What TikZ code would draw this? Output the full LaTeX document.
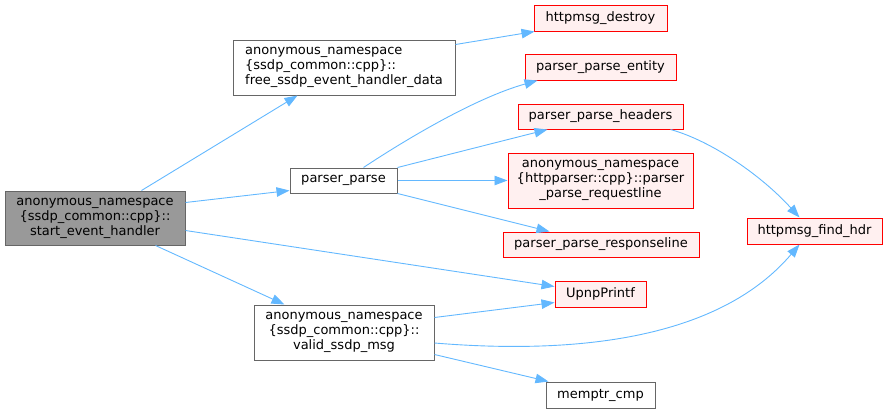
\documentclass[tikz,border=0pt]{standalone}
\usepackage{fontspec}
\setmainfont{DejaVu Sans}
\usetikzlibrary{arrows.meta,calc}
\definecolor{edgeblue}{HTML}{63B8FF}
\definecolor{nodegray}{HTML}{666666}
\definecolor{startfill}{HTML}{999999}
\definecolor{redfill}{HTML}{FFF0F0}
\begin{document}
\begin{tikzpicture}[x=1pt,y=-1pt,
  box/.style={rectangle,inner sep=0pt,line width=1pt,align=center,font=\fontsize{13}{15}\selectfont},
  startbox/.style={box,draw=nodegray,fill=startfill},
  whitebox/.style={box,draw=nodegray,fill=white},
  redbox/.style={box,draw=red,fill=redfill},
  edge/.style={draw=edgeblue,line width=0.9pt,-{Triangle[length=13pt,width=9.5pt]}}
]
\useasboundingbox (0,0) rectangle (887,413);

\node[startbox,minimum width=180pt,minimum height=54pt] (start) at (95,218) {anonymous\_namespace\\\{ssdp\_common::cpp\}::\\start\_event\_handler};
\node[whitebox,align=left,minimum width=222pt,minimum height=55pt] (free) at (344,67.5) {anonymous\_namespace\\\{ssdp\_common::cpp\}::\\free\_ssdp\_event\_handler\_data};
\node[whitebox,minimum width=107pt,minimum height=25pt] (pp) at (343.5,180.5) {parser\_parse};
\node[whitebox,minimum width=180pt,minimum height=55pt] (valid) at (344,332.5) {anonymous\_namespace\\\{ssdp\_common::cpp\}::\\valid\_ssdp\_msg};

\node[redbox,minimum width=133pt,minimum height=26pt] (destroy) at (600.5,18) {httpmsg\_destroy};
\node[redbox,minimum width=151pt,minimum height=26pt] (entity) at (600.5,67) {parser\_parse\_entity};
\node[redbox,minimum width=165pt,minimum height=25pt] (headers) at (600.5,116.5) {parser\_parse\_headers};
\node[redbox,minimum width=185pt,minimum height=55pt] (reqline) at (600.5,180.5) {anonymous\_namespace\\\{httpparser::cpp\}::parser\\\_parse\_requestline};
\node[redbox,minimum width=196pt,minimum height=25pt] (respline) at (601,244.5) {parser\_parse\_responseline};
\node[redbox,minimum width=91pt,minimum height=26pt] (upnp) at (600.5,294) {UpnpPrintf};
\node[whitebox,minimum width=109pt,minimum height=26pt] (memptr) at (600.5,395) {memptr\_cmp};
\node[redbox,minimum width=135pt,minimum height=26pt] (findhdr) at (814.5,231) {httpmsg\_find\_hdr};

\draw[edge] ($(start.north west)+(137,0)$) -- ($(free.south west)+(65,0)$);
\draw[edge] ($(start.north east)+(0,12)$) -- ($(pp.south west)+(0,-3)$);
\draw[edge] ($(start.north east)+(0,40)$) -- ($(upnp.north west)+(0,6)$);
\draw[edge] ($(start.south west)+(151,0)$) -- ($(valid.north west)+(31,0)$);
\draw[edge] ($(free.north east)+(0,5)$) -- ($(destroy.south west)+(1,0)$);
\draw[edge] ($(pp.north west)+(74,0)$) .. controls (405,140) and (475,98) .. ($(entity.south west)+(13,0)$);
\draw[edge] (pp.north east) -- ($(headers.south west)+(30,0)$);
\draw[edge] (pp.east) -- (reqline.west);
\draw[edge] (pp.south east) -- ($(respline.north west)+(47,0)$);
\draw[edge] ($(headers.south east)+(-13,0)$) .. controls (712,141) and (762,176) .. ($(findhdr.north west)+(53,0)$);
\draw[edge] ($(valid.north east)+(0,13)$) -- ($(upnp.south west)+(0,-5)$);
\draw[edge] ($(valid.east)+(0,10.5)$) .. controls (580,355) and (720,338) .. ($(findhdr.south west)+(53,0)$);
\draw[edge] ($(valid.south east)+(0,-6)$) -- ($(memptr.north west)+(3,0)$);
\end{tikzpicture}
\end{document}
